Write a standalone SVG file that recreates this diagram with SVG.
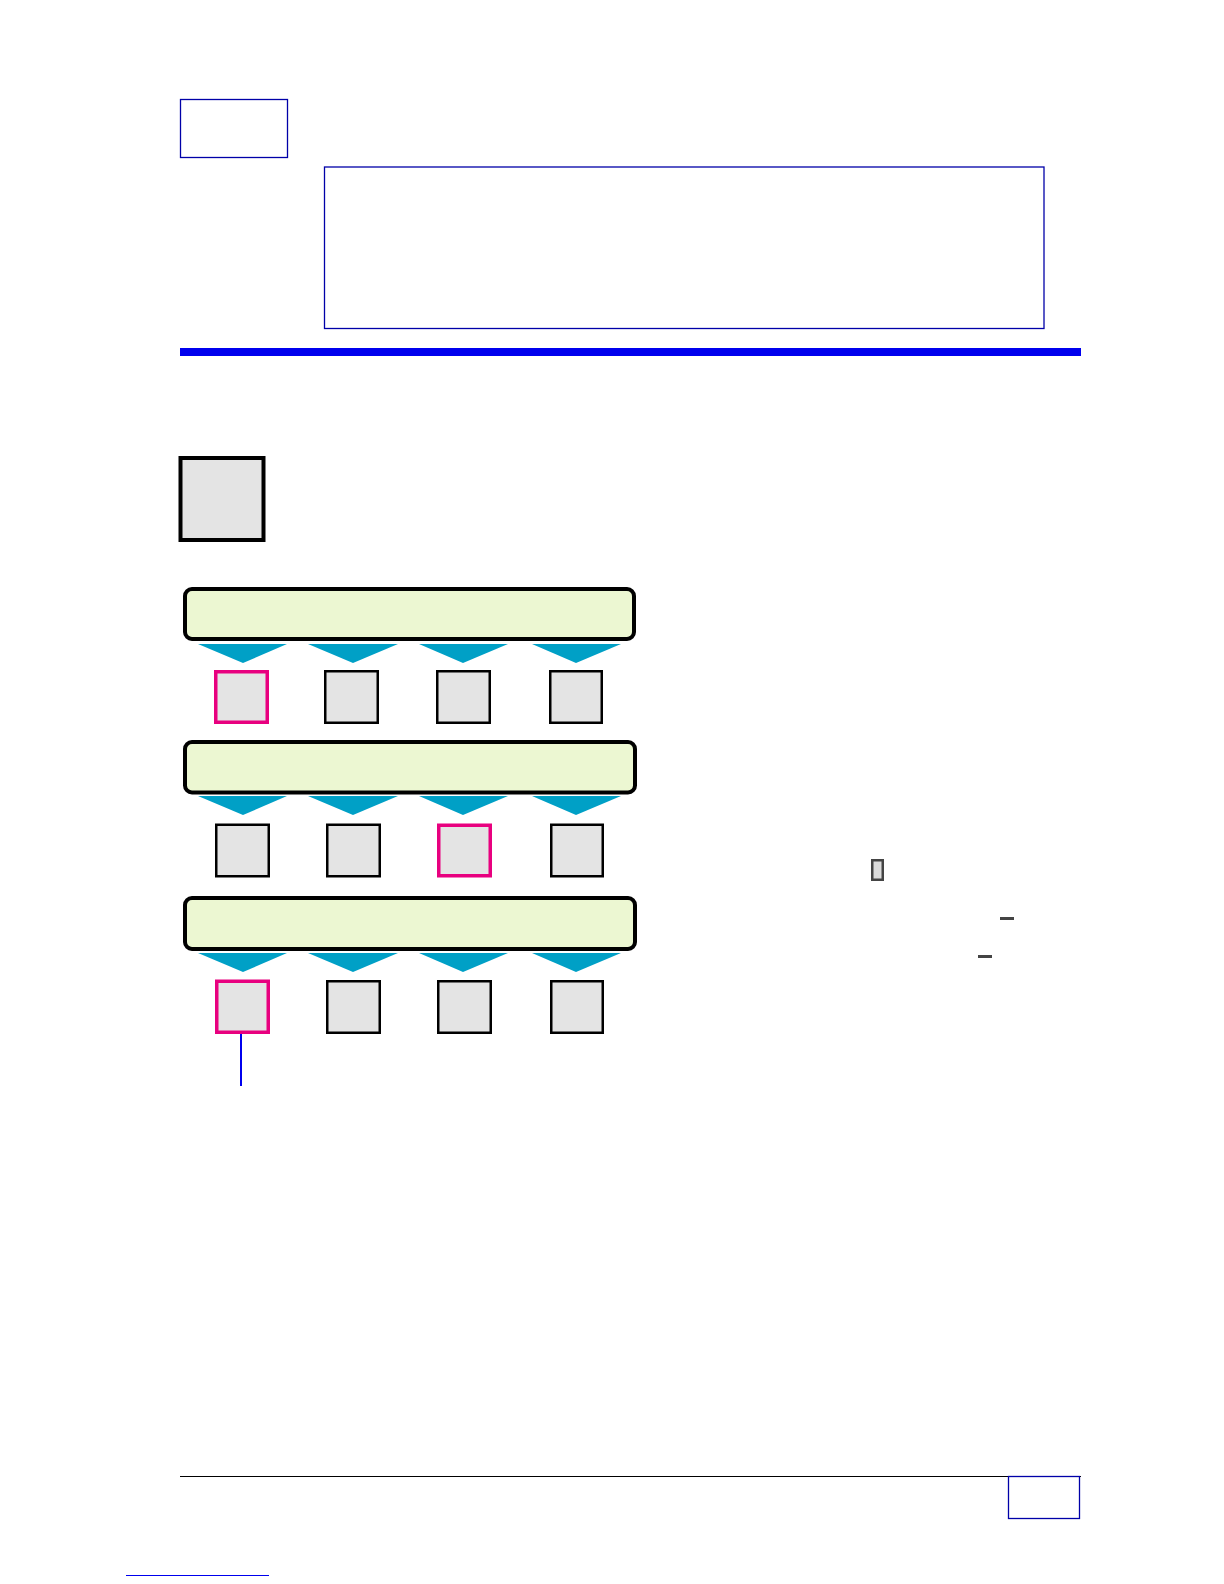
<svg xmlns="http://www.w3.org/2000/svg" width="1224" height="1584" viewBox="0 0 1224 1584">
<style>
.frame{fill:none;stroke:#0000a8;stroke-width:1.3}
.bar{fill:#ecf7d2;stroke:#000;stroke-width:4}
.tri{fill:#00a0c6}
.box{fill:#e4e4e4;stroke:#000;stroke-width:2.5}
.sel{fill:#e4e4e4;stroke:#e8007f;stroke-width:3.5}
</style>
<rect width="1224" height="1584" fill="#fff"/>
<g id="header-box"><rect class="frame" x="180.5" y="99.5" width="107" height="58"/></g>
<g id="title-box"><rect class="frame" x="324.5" y="167" width="719.5" height="161.5"/></g>
<g id="rule"><rect x="180" y="348" width="901" height="8" fill="#0000ee"/></g>
<g id="icon"><rect x="180.5" y="458" width="83" height="82" fill="#e4e4e4" stroke="#000" stroke-width="4"/></g>

<g id="row1">
<rect class="bar" x="185" y="589" width="449" height="50" rx="7"/>
<polygon class="tri" points="198,644 287,644 243,663"/>
<polygon class="tri" points="308,644 398,644 353,663"/>
<polygon class="tri" points="419,644 508,644 463,663"/>
<polygon class="tri" points="532,644 621,644 576,663"/>
</g>
<g id="r1b1"><rect class="sel" x="215.75" y="671.75" width="51.5" height="50.5"/></g>
<g id="r1b2"><rect class="box" x="325.25" y="671.25" width="52.5" height="51.5"/></g>
<g id="r1b3"><rect class="box" x="437.25" y="671.25" width="52.5" height="51.5"/></g>
<g id="r1b4"><rect class="box" x="550.25" y="671.25" width="51.5" height="51.5"/></g>

<g id="row2">
<rect class="bar" x="185" y="742" width="450" height="50.5" rx="7"/>
<polygon class="tri" points="198,796 287,796 243,815"/>
<polygon class="tri" points="308,796 398,796 353,815"/>
<polygon class="tri" points="419,796 508,796 463,815"/>
<polygon class="tri" points="532,796 621,796 576,815"/>
</g>
<g id="r2b1"><rect class="box" x="216.25" y="824.75" width="52.5" height="51.5"/></g>
<g id="r2b2"><rect class="box" x="327.25" y="824.75" width="52.5" height="51.5"/></g>
<g id="r2b3"><rect class="sel" x="438.75" y="825.25" width="51.5" height="50.5"/></g>
<g id="r2b4"><rect class="box" x="551.25" y="824.75" width="51.5" height="51.5"/></g>

<g id="row3">
<rect class="bar" x="185" y="898" width="450" height="51" rx="7"/>
<polygon class="tri" points="198,953 287,953 243,972"/>
<polygon class="tri" points="308,953 398,953 353,972"/>
<polygon class="tri" points="419,953 508,953 463,972"/>
<polygon class="tri" points="532,953 621,953 576,972"/>
</g>
<g id="r3b1"><rect class="sel" x="216.75" y="981.25" width="51.5" height="51"/></g>
<g id="r3b2"><rect class="box" x="327.25" y="981.25" width="52.5" height="51.5"/></g>
<g id="r3b3"><rect class="box" x="438.25" y="981.25" width="52.5" height="51.5"/></g>
<g id="r3b4"><rect class="box" x="551.25" y="981.25" width="51.5" height="51.5"/></g>

<g id="connectors">
<line x1="241" y1="1034" x2="241" y2="1086" stroke="#0000ee" stroke-width="2"/>
</g>

<g id="marks">
<rect x="872.25" y="860.25" width="10.5" height="19.5" fill="#dcdcdc" stroke="#444" stroke-width="2.5"/>
<rect x="1000" y="917" width="14" height="3" fill="#444"/>
<rect x="978" y="955" width="14" height="3" fill="#444"/>
</g>

<g id="footer">
<line x1="180" y1="1476.5" x2="1081" y2="1476.5" stroke="#000" stroke-width="1"/>
<rect class="frame" x="1008.5" y="1476.5" width="71" height="42"/>
<line x1="126" y1="1575.5" x2="269" y2="1575.5" stroke="#0000ee" stroke-width="1"/>
</g>
</svg>
